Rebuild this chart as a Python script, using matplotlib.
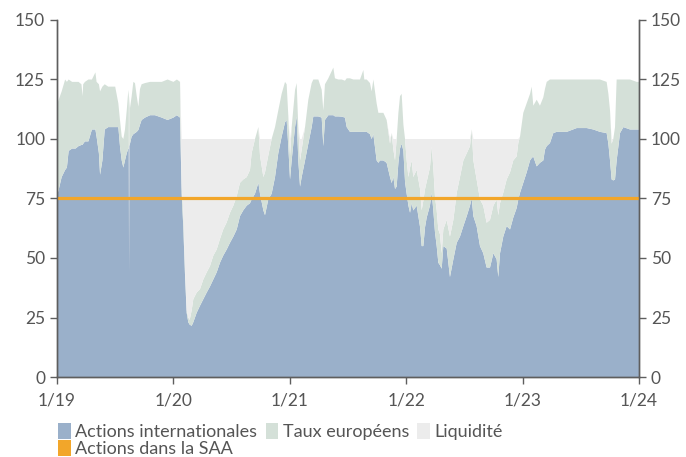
import matplotlib
matplotlib.use("Agg")
import matplotlib.pyplot as plt
from matplotlib.patches import Patch
import numpy as np

# time in decimal years, values in %
years = [
    2019.000, 2019.011, 2019.040, 2019.070, 2019.085, 2019.100, 2019.130, 2019.160, 2019.185, 2019.210,
    2019.220, 2019.225, 2019.240, 2019.270, 2019.300, 2019.330, 2019.340, 2019.360, 2019.370, 2019.390,
    2019.410, 2019.440, 2019.470, 2019.500, 2019.527, 2019.541, 2019.556, 2019.570, 2019.584, 2019.599,
    2019.613, 2019.617, 2019.619, 2019.621, 2019.627, 2019.641, 2019.656, 2019.670, 2019.685, 2019.699,
    2019.713, 2019.727, 2019.756, 2019.800, 2019.842, 2019.900, 2019.950, 2020.000, 2020.030, 2020.057,
    2020.071, 2020.085, 2020.100, 2020.114, 2020.128, 2020.140, 2020.157, 2020.171, 2020.200, 2020.229,
    2020.257, 2020.286, 2020.314, 2020.343, 2020.372, 2020.400, 2020.428, 2020.458, 2020.486, 2020.515,
    2020.544, 2020.572, 2020.600, 2020.630, 2020.658, 2020.672, 2020.701, 2020.730, 2020.744, 2020.773,
    2020.787, 2020.815, 2020.844, 2020.873, 2020.901, 2020.930, 2020.959, 2020.973, 2020.987, 2021.002,
    2021.016, 2021.045, 2021.059, 2021.073, 2021.088, 2021.102, 2021.131, 2021.159, 2021.188, 2021.202,
    2021.245, 2021.274, 2021.288, 2021.302, 2021.331, 2021.374, 2021.388, 2021.417, 2021.446, 2021.474,
    2021.489, 2021.517, 2021.546, 2021.603, 2021.632, 2021.640, 2021.661, 2021.689, 2021.703, 2021.718,
    2021.746, 2021.761, 2021.775, 2021.804, 2021.832, 2021.861, 2021.875, 2021.890, 2021.904, 2021.918,
    2021.933, 2021.947, 2021.961, 2021.976, 2021.990, 2022.004, 2022.019, 2022.033, 2022.047, 2022.061,
    2022.090, 2022.119, 2022.133, 2022.147, 2022.162, 2022.176, 2022.204, 2022.219, 2022.233, 2022.247,
    2022.262, 2022.276, 2022.290, 2022.305, 2022.319, 2022.348, 2022.376, 2022.405, 2022.434, 2022.462,
    2022.491, 2022.520, 2022.548, 2022.563, 2022.577, 2022.605, 2022.634, 2022.662, 2022.691, 2022.720,
    2022.749, 2022.777, 2022.791, 2022.806, 2022.834, 2022.863, 2022.892, 2022.920, 2022.949, 2022.963,
    2022.978, 2023.006, 2023.035, 2023.064, 2023.078, 2023.092, 2023.121, 2023.149, 2023.178, 2023.192,
    2023.207, 2023.235, 2023.264, 2023.293, 2023.379, 2023.465, 2023.551, 2023.608, 2023.665, 2023.722,
    2023.737, 2023.751, 2023.765, 2023.779, 2023.794, 2023.808, 2023.837, 2023.866, 2023.923, 2023.980,
    2024.000,
]

actions_int = [
    77, 78, 84, 87, 88, 95, 96, 96, 97, 97.5,
    97.5, 98, 99, 99, 104, 104, 101, 94, 85, 91,
    104, 105, 105, 105, 105, 97, 91, 88, 91, 94,
    96, 96, 43, 97, 98, 101, 102, 102.5, 103, 103.8,
    106, 108, 109, 110, 110, 109, 108, 109, 110, 109,
    77, 63, 42.5, 27, 23, 22, 21.5, 23, 27, 30,
    32.7, 35.5, 38, 41, 44, 48, 51, 53.6, 56.4, 59,
    62, 67.6, 70, 72, 73, 74.6, 77, 81.6, 77, 70,
    68, 74.6, 77, 84, 94, 101, 107, 108, 97, 83,
    91, 105, 109.5, 91, 80, 84, 91, 98, 105, 109.5,
    109.5, 109, 97, 108, 110, 110, 109.5, 109.5, 109.4, 109,
    105, 103, 103, 103, 103, 103, 103, 102, 100, 102,
    91, 90, 91, 91, 90, 84, 81.5, 84, 79, 80,
    90, 96, 98, 95, 82, 77, 72, 69, 73, 70,
    72, 63, 55, 55, 63, 67, 72, 77.5, 70, 61,
    55, 48, 47, 45.5, 55, 54, 42, 49.4, 56.4, 59,
    63.4, 67.6, 72, 75, 67.6, 63.4, 55, 52, 46, 46,
    52, 49.4, 42, 52, 59, 63.4, 62, 67, 71, 74.6,
    77.4, 81.6, 86, 91, 92, 92.6, 88.5, 90, 91, 95.5,
    97, 98.3, 102.5, 103, 103, 104.6, 104.6, 104, 103, 102.5,
    98, 91, 83, 82.6, 83, 91, 102.5, 105, 104, 104,
    104,
]

total_exposure = [
    114, 116, 120, 125, 124, 125, 124, 124, 124, 123,
    118, 123, 124, 125, 125, 128, 124, 123, 120, 122,
    123, 122, 122, 122, 115, 108, 101, 100, 104, 112,
    120.6, 118, 43, 118, 113, 117.8, 124, 123.5, 118, 113.6,
    121, 123, 123.5, 124, 124, 124, 125, 124, 125, 124,
    80, 70, 45, 28, 25, 24, 28, 32.7, 35.5, 37,
    41, 44, 46.6, 51, 53.6, 58, 62, 65, 69, 72,
    76, 81.6, 83, 84, 87, 94, 100, 105, 93, 84,
    86, 93, 100, 105, 112, 119, 124, 123, 110, 93,
    105, 120.6, 123.5, 105, 91, 95.5, 105, 116.5, 123.5, 125,
    125, 120.7, 112, 123, 125.5, 130, 125.5, 125, 125, 124.5,
    125.5, 125.5, 125, 125, 129, 125, 125, 123.5, 120, 125,
    115, 111, 111, 111, 108, 98, 102.5, 95.5, 91, 100,
    111, 118, 119, 106, 100, 91, 84, 88, 91, 84,
    87, 79, 70, 74, 79, 82, 88, 97, 88, 76,
    70, 62, 60, 52, 62, 66, 59, 66, 77.4, 84,
    91, 94, 97, 104, 91, 83, 74.6, 72, 64.8, 66,
    72, 74.6, 68, 73, 77.4, 83, 86, 91, 92.7, 98.3,
    101, 111, 115, 119, 122, 114, 116.5, 114, 117.5, 121,
    124, 125, 125, 125, 125, 125, 125, 125, 125, 124,
    119, 112, 98, 100, 105, 125, 125, 125, 125, 124,
    124,
]

saa_level = 75
tick_years = [2019, 2020, 2021, 2022, 2023, 2024]
tick_labels = ["1/19", "1/20", "1/21", "1/22", "1/23", "1/24"]
y_ticks = [0, 25, 50, 75, 100, 125, 150]
labels = ["Actions internationales", "Taux européens", "Liquidité", "Actions dans la SAA"]

C_BLUE = "#9AB0CA"
C_GREEN = "#D4E0D8"
C_GREY = "#ECECEC"
C_ORANGE = "#F2A62A"
C_TEXT = "#555555"
C_AXIS = "#5E5E5E"

plt.rcParams["font.family"] = ["Lato", "DejaVu Sans"]

x = np.array(years)
a = np.array(actions_int, dtype=float)
tot = np.array(total_exposure, dtype=float)
taux = tot - a
liq = np.clip(100 - tot, 0, None)

fig = plt.figure(figsize=(6.86, 4.57), dpi=100)
ax = fig.add_axes([57 / 686, 1 - 377 / 457, (639 - 57) / 686, (377 - 20) / 457])

ax.stackplot(x, a, taux, liq, colors=[C_BLUE, C_GREEN, C_GREY], linewidth=0)
ax.axhline(saa_level, color=C_ORANGE, lw=2.3, zorder=5)

ax.set_xlim(2019, 2024)
ax.set_ylim(0, 150)
ax.set_xticks(tick_years)
ax.set_xticklabels(tick_labels)
ax.set_yticks(y_ticks)

ax2 = ax.twinx()
ax2.set_ylim(0, 150)
ax2.set_yticks(y_ticks)

for axx in (ax, ax2):
    for s in axx.spines.values():
        s.set_color(C_AXIS)
        s.set_linewidth(1.0)
    axx.spines["top"].set_visible(False)
    axx.tick_params(colors=C_AXIS, labelcolor=C_TEXT, labelsize=12.5, length=5, width=1)
ax.tick_params(axis="x", pad=6)

handles = [
    Patch(facecolor=C_BLUE, edgecolor="none"),
    Patch(facecolor=C_ORANGE, edgecolor="none"),
    Patch(facecolor=C_GREEN, edgecolor="none"),
    Patch(facecolor=C_GREY, edgecolor="none"),
]
leg_labels = [labels[0], labels[3], labels[1], labels[2]]
fig.legend(handles, leg_labels, loc="upper left", bbox_to_anchor=(0.085, 0.074),
           ncol=3, frameon=False, fontsize=13, labelcolor=C_TEXT,
           handlelength=0.7, handleheight=1.0, handletextpad=0.25,
           columnspacing=0.45, labelspacing=-0.02, borderpad=0, borderaxespad=0)

fig.savefig("out.png", dpi=100)
